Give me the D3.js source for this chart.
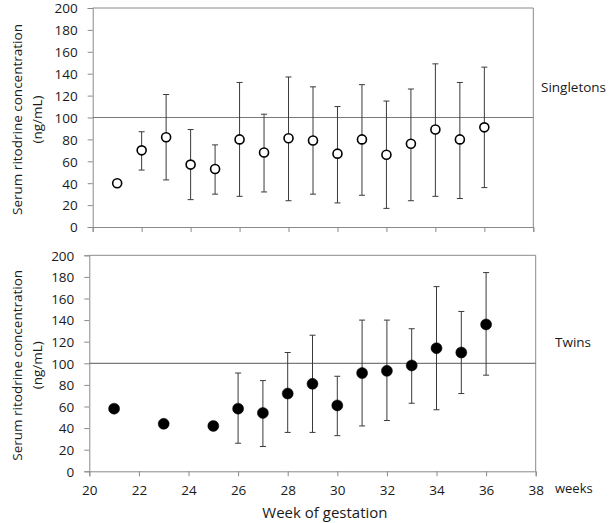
<html>

<head>
    <script src="https://d3js.org/d3.v7.min.js"></script>
    <style>
        body {
            margin: 0;
            background: white;
        }

        * {
            font-family: "Open Sans", Arial;
        }

        .axis text {
            font-size: 13.5px;
            fill: #1a1a1a;
        }

        .axis line,
        .axis path {
            stroke: #8a8a8a;
        }

        .label {
            fill: #1a1a1a;
        }
    </style>
</head>

<body>
    <svg id="chart" width="609" height="523"></svg>
</body>

<script>
    // Week of gestation
    const singletonWeeks = [21, 22, 23, 24, 25, 26, 27, 28, 29, 30, 31, 32, 33, 34, 35, 36];
    // Serum ritodrine concentration (ng/mL)
    const singletonMean = [40, 70, 82, 57, 53, 80, 68, 81, 79, 67, 80, 66, 76, 89, 80, 91];
    const singletonUpper = [null, 87, 121, 89, 75, 132, 103, 137, 128, 110, 130, 115, 126, 149, 132, 146];
    const singletonLower = [null, 52, 43, 25, 30, 28, 32, 24, 30, 22, 29, 17, 24, 28, 26, 36];

    const twinWeeks = [21, 23, 25, 26, 27, 28, 29, 30, 31, 32, 33, 34, 35, 36];
    const twinMean = [58, 44, 42, 58, 54, 72, 81, 61, 91, 93, 98, 114, 110, 136];
    const twinUpper = [null, null, 46, 91, 84, 110, 126, 88, 140, 140, 132, 171, 148, 184];
    const twinLower = [null, null, 38, 26, 23, 36, 36, 33, 42, 47, 63, 57, 72, 89];

    const xTicks = [20, 22, 24, 26, 28, 30, 32, 34, 36, 38];
    const yTicks = [0, 20, 40, 60, 80, 100, 120, 140, 160, 180, 200];
    const refLevel = 100;

    const svg = d3.select("#chart");

    function drawPanel(p) {
        const x = d3.scaleLinear().domain([20, 38]).range([p.left, p.right]);
        const y = d3.scaleLinear().domain([0, 200]).range([p.bottom, p.top]);
        const g = svg.append("g");

        // frame (top + right)
        g.append("path")
            .attr("d", `M${p.left},${p.top}H${p.right}V${p.bottom}`)
            .attr("fill", "none")
            .attr("stroke", "#8a8a8a");

        // y axis
        g.append("g")
            .attr("class", "axis")
            .attr("transform", `translate(${p.left},0)`)
            .call(d3.axisLeft(y).tickValues(yTicks).tickSizeOuter(0).tickSize(5).tickPadding(10))
            .call(a => a.selectAll("text").attr("dy", "0.36em"));

        // x axis
        let bottomAxis = d3.axisBottom(x).tickValues(xTicks).tickSizeOuter(0).tickSize(5).tickPadding(9);
        if (!p.xLabels) bottomAxis.tickFormat("");
        g.append("g")
            .attr("class", "axis")
            .attr("transform", `translate(0,${p.bottom})`)
            .call(bottomAxis);

        // reference line at 100
        g.append("line")
            .attr("x1", p.left).attr("x2", p.right)
            .attr("y1", y(refLevel)).attr("y2", y(refLevel))
            .attr("stroke", "#7a7a7a")
            .attr("stroke-width", 1.2);

        const rows = p.weeks.map((w, i) => ({ week: w, mean: p.mean[i], hi: p.upper[i], lo: p.lower[i] }));
        const bars = rows.filter(d => d.hi !== null);

        // error bars
        g.append("g").selectAll("path").data(bars)
            .join("path")
            .attr("d", d => {
                const cx = x(d.week);
                return `M${cx},${y(d.hi)}V${y(d.lo)}M${cx - 3},${y(d.hi)}H${cx + 3}M${cx - 3},${y(d.lo)}H${cx + 3}`;
            })
            .attr("fill", "none")
            .attr("stroke", "#3a3a3a")
            .attr("stroke-width", 1);

        // points
        g.append("g").selectAll("circle").data(rows)
            .join("circle")
            .attr("cx", d => x(d.week))
            .attr("cy", d => y(d.mean))
            .attr("r", p.filled ? 5.5 : 4.5)
            .attr("fill", p.filled ? "black" : "white")
            .attr("stroke", "black")
            .attr("stroke-width", p.filled ? 0.5 : 1.6);

        // y title
        const cy = (p.top + p.bottom) / 2 + 2;
        svg.append("text")
            .attr("class", "label")
            .attr("transform", `translate(22,${cy}) rotate(-90)`)
            .attr("text-anchor", "middle")
            .attr("font-size", 13.5)
            .text("Serum ritodrine concentration");
        svg.append("text")
            .attr("class", "label")
            .attr("transform", `translate(42,${cy}) rotate(-90)`)
            .attr("text-anchor", "middle")
            .attr("font-size", 13.5)
            .text("(ng/mL)");

        // series name
        svg.append("text")
            .attr("class", "label")
            .attr("x", p.nameX)
            .attr("y", p.nameY)
            .attr("font-size", 13.5)
            .text(p.name);

        return x;
    }

    drawPanel({
        left: 92.7, right: 533.3, top: 8, bottom: 227,
        weeks: singletonWeeks, mean: singletonMean, upper: singletonUpper, lower: singletonLower,
        filled: false, xLabels: false, name: "Singletons", nameX: 541, nameY: 92
    });

    const xBottom = drawPanel({
        left: 89.3, right: 535.7, top: 255.3, bottom: 471.3,
        weeks: twinWeeks, mean: twinMean, upper: twinUpper, lower: twinLower,
        filled: true, xLabels: true, name: "Twins", nameX: 555, nameY: 347
    });

    svg.append("text")
        .attr("class", "label")
        .attr("x", 555)
        .attr("y", 493)
        .attr("font-size", 13)
        .text("weeks");

    svg.append("text")
        .attr("class", "label")
        .attr("x", xBottom(29.5))
        .attr("y", 518)
        .attr("text-anchor", "middle")
        .attr("font-size", 15)
        .text("Week of gestation");
</script>

</html>
